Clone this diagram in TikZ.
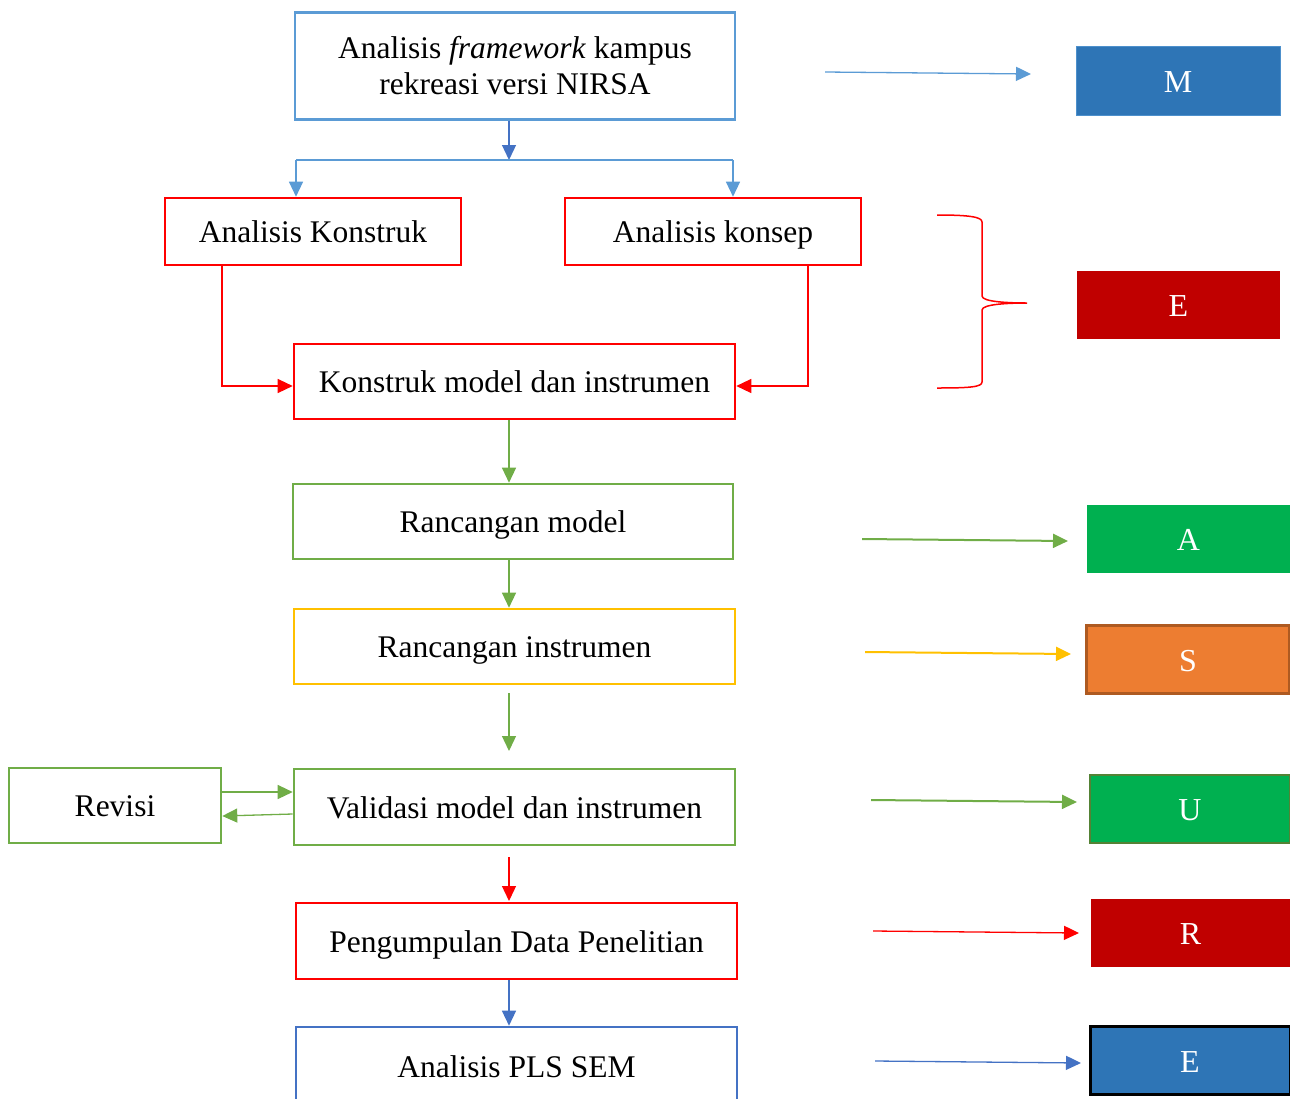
\documentclass[tikz,border=0pt]{standalone}
\usepackage{fontspec}
\setmainfont{Liberation Serif}
\usetikzlibrary{arrows.meta}
\definecolor{lblue}{HTML}{5B9BD5}
\definecolor{dblue}{HTML}{4472C4}
\definecolor{lred}{HTML}{FF0000}
\definecolor{lgreen}{HTML}{70AD47}
\definecolor{lyellow}{HTML}{FFC000}
\definecolor{fblue}{HTML}{2E75B6}
\definecolor{fred}{HTML}{C00000}
\definecolor{fgreen}{HTML}{00B050}
\definecolor{forange}{HTML}{ED7D31}
\definecolor{borange}{HTML}{AE5A21}
\definecolor{bgreen}{HTML}{548235}
\tikzset{
  flowbox/.style={draw, line width=2.6pt, rectangle, inner sep=0pt, align=center,
    font=\fontsize{31.5}{36}\selectfont, text=black},
  onebox/.style={flowbox, text height=22pt, text depth=0pt},
  tagbox/.style={rectangle, inner sep=0pt, font=\fontsize{32}{36}\selectfont, text=white,
    text height=23.5pt, text depth=0pt},
  conn/.style={line width=1.3pt, -{Triangle[length=15pt,width=14pt]}},
  plain/.style={line width=1.3pt}
}
\begin{document}
\begin{tikzpicture}[x=1pt,y=-1pt]
\useasboundingbox (0,0) rectangle (1290,1098);
\clip (0,0) rectangle (1290,1098);
% main boxes
\node[flowbox, draw=lblue, minimum width=440, minimum height=107] (top) at (515,66)
  {Analisis \textit{framework} kampus\\rekreasi versi NIRSA};
\node[onebox, draw=lred, minimum width=296, minimum height=67] (ak) at (313,231.5) {Analisis Konstruk};
\node[onebox, draw=lred, minimum width=296, minimum height=67] (aks) at (713,231.5) {Analisis konsep};
\node[onebox, draw=lred, minimum width=441, minimum height=75] (kmi) at (514.5,381.5) {Konstruk model dan instrumen};
\node[onebox, draw=lgreen, minimum width=440, minimum height=75] (rm) at (513,521.5) {Rancangan model};
\node[onebox, draw=lyellow, minimum width=441, minimum height=75] (ri) at (514.5,646.5) {Rancangan instrumen};
\node[onebox, draw=lgreen, minimum width=441, minimum height=76] (vmi) at (514.5,807) {Validasi model dan instrumen};
\node[onebox, draw=lgreen, minimum width=212, minimum height=75] (rev) at (115,805.5) {Revisi};
\node[onebox, draw=lred, minimum width=441, minimum height=76] (pdp) at (516.5,941) {Pengumpulan Data Penelitian};
\node[onebox, draw=dblue, minimum width=441, minimum height=78] (pls) at (516.5,1066) {Analisis PLS SEM};
% tag boxes
\node[tagbox, fill=fblue, draw=lblue!70!fblue, line width=1pt, minimum width=204, minimum height=69] (tm) at (1178,80.5) {M};
\node[tagbox, fill=fred, minimum width=203, minimum height=68] (te1) at (1178.5,305) {E};
\node[tagbox, fill=fgreen, minimum width=203, minimum height=68] (ta) at (1188.5,539) {A};
\node[tagbox, fill=forange, draw=borange, line width=2.5pt, minimum width=203, minimum height=68] (ts) at (1188,659.5) {S};
\node[tagbox, fill=fgreen, draw=bgreen, line width=2pt, minimum width=200, minimum height=68] (tu) at (1190,808.5) {U};
\node[tagbox, fill=fred, minimum width=200, minimum height=68] (tr) at (1190.5,933) {R};
\node[tagbox, fill=fblue, draw=black, line width=3pt, minimum width=200, minimum height=68] (te2) at (1190,1060.5) {E};
% coordinates
\coordinate (ax) at (509,0);
\coordinate (j1) at (509,160);
\coordinate (jl) at (296,160);
\coordinate (jr) at (733,160);
\coordinate (ri1) at (509,693);
\coordinate (ri2) at (509,751);
\coordinate (vm1) at (509,857);
\coordinate (vm2) at (509,901);
% top connectors
\draw[conn, dblue] (j1 |- top.south) -- (j1);
\draw[plain, lblue] (jl) -- (jr);
\draw[conn, lblue] (jl) -- (jl |- ak.north);
\draw[conn, lblue] (jr) -- (jr |- aks.north);
% to konstruk model
\draw[conn, lred] ([xshift=-91pt]ak.south) |- ([yshift=-4.5pt]kmi.west);
\draw[conn, lred] ([xshift=95pt]aks.south) |- ([yshift=-4.5pt]kmi.east);
% vertical flow
\draw[conn, lgreen] (ax |- kmi.south) -- (ax |- rm.north);
\draw[conn, lgreen] (ax |- rm.south) -- (ax |- ri.north);
\draw[conn, lgreen] (ri1) -- (ri2);
\draw[conn, lred] (vm1) -- (vm2);
\draw[conn, dblue] (ax |- pdp.south) -- (ax |- pls.north);
% revisi
\draw[conn, lgreen] ([yshift=13.5pt]rev.east) -- ([yshift=15pt]vmi.west);
\draw[conn, lgreen] ([yshift=-7pt]vmi.west) -- ([yshift=-10.5pt]rev.east);
% right arrows
\coordinate (m1) at (825,72);   \coordinate (m2) at (1031,74);
\coordinate (a1) at (862,539);  \coordinate (a2) at (1068,541);
\coordinate (s1) at (865,652);  \coordinate (s2) at (1071,654);
\coordinate (u1) at (871,800);  \coordinate (u2) at (1077,802);
\coordinate (r1) at (873,931);  \coordinate (r2) at (1079,933);
\coordinate (e1) at (875,1061); \coordinate (e2) at (1081,1063);
\draw[conn, lblue] (m1) -- (m2);
\draw[conn, lgreen, line width=2pt] (a1) -- (a2);
\draw[conn, lyellow, line width=2pt] (s1) -- (s2);
\draw[conn, lgreen, line width=2pt] (u1) -- (u2);
\draw[conn, lred] (r1) -- (r2);
\draw[conn, dblue] (e1) -- (e2);
% brace
\draw[lred, line width=1.5pt] (937,215) .. controls (970,215) and (982,217) .. (982,222)
  -- (982,296) .. controls (982,302) and (1010,303) .. (1027,303)
  .. controls (1010,303) and (982,304) .. (982,310)
  -- (982,382) .. controls (982,387) and (970,388) .. (937,388);
\end{tikzpicture}
\end{document}
